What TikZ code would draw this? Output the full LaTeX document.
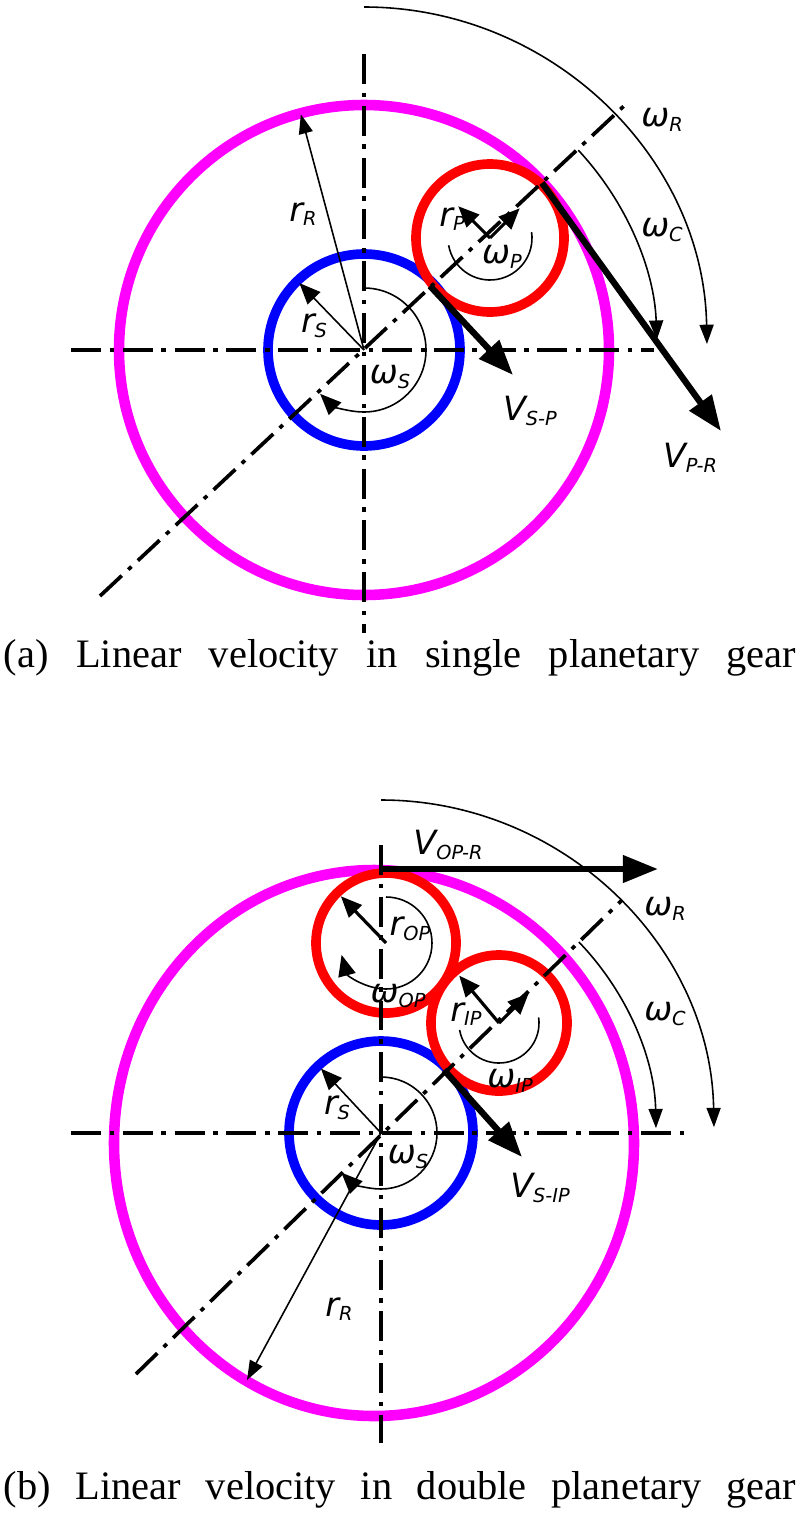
\documentclass[tikz,border=0pt]{standalone}
\usepackage{fontspec}
\setmainfont{Liberation Serif}
\newfontfamily\lblfont{DejaVu Sans}
\usetikzlibrary{arrows.meta, positioning}
\newcommand{\lbl}[2]{{\lblfont\itshape #1\raisebox{-0.25ex}{\fontsize{11}{11}\selectfont #2}}}
\definecolor{ringpink}{RGB}{255,0,255}
\tikzset{
  axis/.style={line width=2.1pt, dash pattern=on 17pt off 5pt on 2.5pt off 5pt},
  ring/.style={line width=6pt, ringpink},
  sun/.style={line width=5.5pt, blue},
  planet/.style={line width=5.5pt, red},
  thin arrow/.style={line width=0.9pt, -{Triangle[length=11pt,width=8pt]}},
  spin arrow/.style={line width=1.8pt, -{Triangle[length=12pt,width=10pt]}},
  speed/.style={line width=3.6pt, -{Triangle[length=20pt,width=15pt]}},
  label/.style={font=\fontsize{19}{19}\selectfont, inner sep=0pt},
  caption/.style={font=\fontsize{23}{24}\selectfont, inner sep=0pt}
}
\begin{document}
\begin{tikzpicture}[x=0.02cm, y=0.02cm]
  \useasboundingbox (0,0) rectangle (800,-1521);

  % (a) single planetary gear
  \coordinate (Sa) at (364,-350);
  \coordinate (Pa) at (490,-238);
  \draw[ring] (Sa) circle[radius=245];
  \draw[sun] (Sa) circle[radius=96];
  \draw[planet] (Pa) circle[radius=74];

  % Draw the center lines
  \coordinate (ha1) at (71,-350);  \coordinate (ha2) at (654,-350);
  \coordinate (va1) at (364,-54);  \coordinate (va2) at (364,-633);
  \coordinate (da1) at (100,-596); \coordinate (da2) at (625,-105);
  \draw[axis] (ha1) -- (ha2);
  \draw[axis] (va1) -- (va2);
  \draw[axis] (da1) -- (da2);

  % Draw the angular speeds
  \draw[thin arrow] ([shift={(90:343)}]Sa) arc[start angle=90, end angle=1, radius=343];
  \draw[thin arrow] ([shift={(43:293)}]Sa) arc[start angle=43, end angle=2, radius=293];
  \draw[spin arrow, line width=0.9pt] ([shift={(90:62)}]Sa) arc[start angle=90, end angle=-135, radius=62];
  \draw[line width=0.9pt] ([shift={(190:42)}]Pa) arc[start angle=190, end angle=368, radius=42];

  % Draw the radii
  \draw[thin arrow] (Sa) -- ([shift={(105:244)}]Sa);
  \draw[spin arrow, line width=0.9pt] (Sa) -- ([shift={(134:93)}]Sa);
  \draw[spin arrow] (Pa) -- ([shift={(135:45)}]Pa);
  \draw[spin arrow] (Pa) -- ([shift={(45:42)}]Pa);

  % Draw the linear velocities
  \coordinate (vpr1) at (542,-183); \coordinate (vpr2) at (721,-431);
  \coordinate (vsp1) at (430,-286); \coordinate (vsp2) at (513,-375);
  \draw[speed] (vpr1) -- (vpr2);
  \draw[speed] (vsp1) -- (vsp2);

  \node[label] (rRa) at (303,-214) {\lbl{r}{R}};
  \node[label] (rSa) at (314,-326) {\lbl{r}{S}};
  \node[label] (rPa) at (452,-219) {\lbl{r}{P}};
  \node[label] (wPa) at (502,-257) {\lbl{ω}{P}};
  \node[label] (wSa) at (390,-377) {\lbl{ω}{S}};
  \node[label] (vSPa) at (530,-411) {\lbl{V}{S-P}};
  \node[label] (vPRa) at (690,-458) {\lbl{V}{P-R}};
  \node[label] (wRa) at (662,-120) {\lbl{ω}{R}};
  \node[label] (wCa) at (662,-230) {\lbl{ω}{C}};
  \node[caption] (capa) at (400,-658) {\makebox[792\dimexpr0.02cm][s]{(a) Linear velocity in single planetary gear}};

  % (b) double planetary gear
  \coordinate (Sb) at (381,-1133);
  \coordinate (Rb) at (374,-1143);
  \coordinate (OP) at (386,-943);
  \coordinate (IP) at (499,-1023);
  \draw[ring] (Rb) ellipse[x radius=260, y radius=273];
  \draw[sun] (Sb) circle[radius=92];
  \draw[planet] (OP) circle[radius=70];
  \draw[planet] (IP) circle[radius=68];

  % Draw the center lines
  \coordinate (hb1) at (71,-1133);  \coordinate (hb2) at (689,-1133);
  \coordinate (vb1) at (381,-845);  \coordinate (vb2) at (381,-1443);
  \coordinate (db1) at (136,-1374); \coordinate (db2) at (622,-900);
  \draw[axis] (hb1) -- (hb2);
  \draw[axis] (vb1) -- (vb2);
  \draw[axis] (db1) -- (db2);

  % Draw the angular speeds
  \draw[thin arrow] ([shift={(90:333)}]Sb) arc[start angle=90, end angle=1, radius=333];
  \draw[thin arrow] ([shift={(44:275)}]Sb) arc[start angle=44, end angle=1, radius=275];
  \draw[spin arrow, line width=0.9pt] ([shift={(90:56)}]Sb) arc[start angle=90, end angle=-135, radius=56];
  \draw[spin arrow, line width=0.9pt] ([shift={(90:46)}]OP) arc[start angle=90, end angle=-165, radius=46];
  \draw[line width=0.9pt] ([shift={(190:40)}]IP) arc[start angle=190, end angle=368, radius=40];

  % Draw the radii
  \coordinate (rRend) at (247,-1380);
  \draw[thin arrow] (Sb) -- (rRend);
  \draw[spin arrow, line width=0.9pt] (Sb) -- ([shift={(133:88)}]Sb);
  \draw[spin arrow] (OP) -- ([shift={(134:65)}]OP);
  \draw[spin arrow] (IP) -- ([shift={(130:62)}]IP);
  \draw[spin arrow] (IP) -- ([shift={(45:42)}]IP);

  % Draw the linear velocities
  \coordinate (vor1) at (381,-869);  \coordinate (vor2) at (658,-869);
  \coordinate (vsi1) at (444,-1070); \coordinate (vsi2) at (522,-1157);
  \draw[speed] (vor1) -- (vor2);
  \draw[speed] (vsi1) -- (vsi2);

  \node[label] (vORb) at (448,-845) {\lbl{V}{OP-R}};
  \node[label] (wRb) at (665,-909) {\lbl{ω}{R}};
  \node[label] (wCb) at (665,-1014) {\lbl{ω}{C}};
  \node[label] (vSIb) at (540,-1188) {\lbl{V}{S-IP}};
  \node[label] (rSb) at (337,-1108) {\lbl{r}{S}};
  \node[label] (wSb) at (408,-1157) {\lbl{ω}{S}};
  \node[label] (rRb) at (339,-1309) {\lbl{r}{R}};
  \node[label] (rOPb) at (410,-929) {\lbl{r}{OP}};
  \node[label] (wOPb) at (398,-996) {\lbl{ω}{OP}};
  \node[label] (rIPb) at (466,-1014) {\lbl{r}{IP}};
  \node[label] (wIPb) at (510,-1081) {\lbl{ω}{IP}};
  \node[caption] (capb) at (400,-1490) {\makebox[792\dimexpr0.02cm][s]{(b) Linear velocity in double planetary gear}};
\end{tikzpicture}
\end{document}
